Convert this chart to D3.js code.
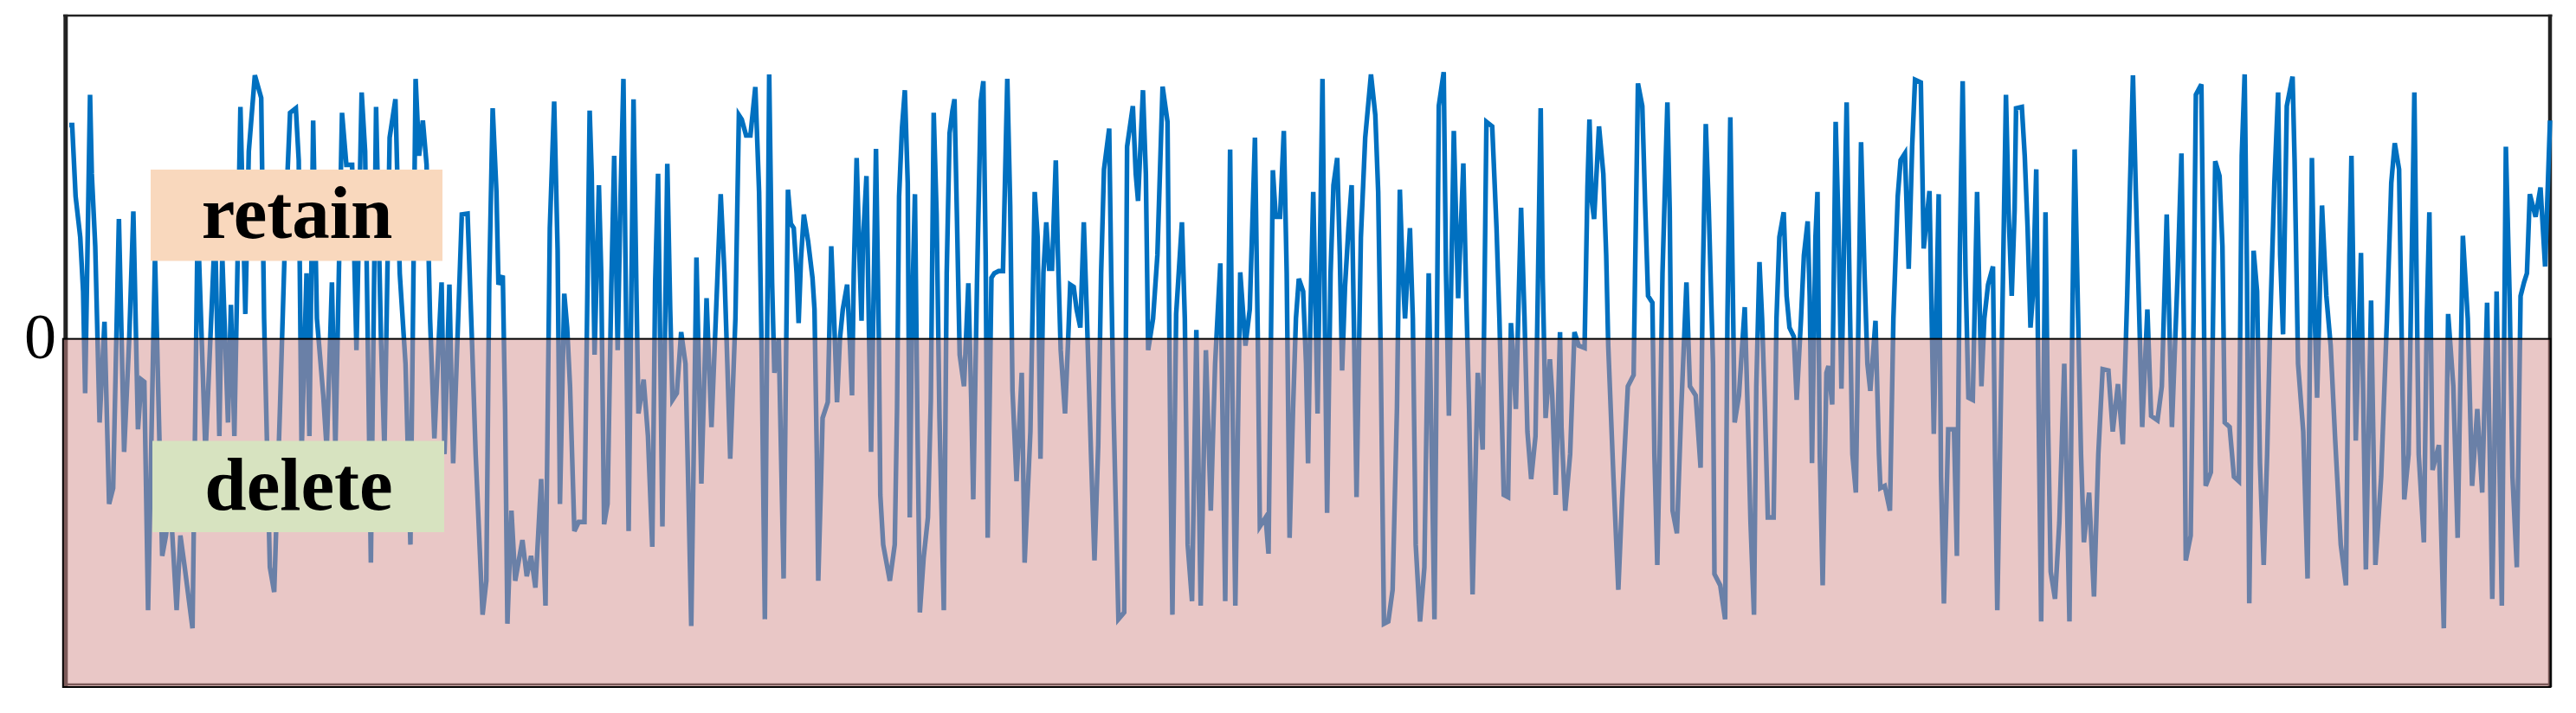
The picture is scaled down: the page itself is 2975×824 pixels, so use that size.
<!DOCTYPE html>
<html><head><meta charset="utf-8">
<script src="https://cdn.jsdelivr.net/npm/d3@7"></script>
<style>html,body{margin:0;padding:0;background:#fff;}svg{display:block;}</style>
</head><body>
<svg id="chart" width="2975" height="824"></svg>
<script>
// [time step, score] samples (turning points of the trace)
const samples = [
[6,47.3],[16,47.3],[28,31.5],[44,22.5],[54,10.5],[61,-12],[78,54],[84,36.5],[96,20.5],[111,-18.5],[128,3.8],[144,-36.5],[158,-33],[178,26.5],[196,-25],[214,0.5],[228,28.2],[244,-20],[256,-9],[266,-9.5],[279,-60],[303,18.5],[328,-48],[341,-43.5],[356,-35.5],[378,-60],[391,-43.5],[406,-50.5],[433,-64],[451,26.5],[478,-25.5],[511,24.5],[526,-21.5],[536,18.5],[556,-18.5],[566,7.5],[578,-21.5],[599,51.3],[616,5.5],[628,41.5],[649,58.3],[671,53.3],[681,4.5],[701,-50.5],[716,-56],[736,-15.5],[756,27.5],[771,50],
[791,51],[801,39.5],[811,-25.5],[828,14.5],[838,-21.5],[851,48.3],[864,4.5],[886,-12.5],[898,-24.5],[916,12.5],[928,-24.5],[951,50],[966,38.5],[986,38.5],[1001,-2.5],[1019,54.5],[1031,41.5],[1051,-49.5],[1069,51.3],[1086,0],[1098,-24.5],[1116,44.5],[1136,53],[1151,14.5],[1171,-5.5],[1188,-45.5],[1206,57.5],[1218,40.5],[1231,48.3],[1244,38.5],[1256,4.5],[1271,-22],[1286,-0.5],[1296,12.5],[1306,-25.5],[1323,12],[1336,-27.5],[1351,0],[1366,27.5],[1386,27.7],[1401,0],[1414,-25.5],[1438,-61],[1451,-53.5],[1461,12.5],[1473,51],[1486,32.5],[1493,12],[1508,14],[1516,-15.5],[1524,-63],[1538,-38],[1551,-53.5],[1576,-44.5],[1591,-52.5],[1606,-48],[1621,-55],
[1641,-31],[1656,-59],[1671,24.5],[1686,52.5],[1698,19.5],[1706,-36.5],[1721,10],[1731,2.5],[1741,-10.5],[1756,-42.5],[1771,-40.5],[1791,-40.5],[1809,50.5],[1816,36.5],[1826,-3.5],[1841,34],[1849,14.5],[1859,-41],[1871,-36.5],[1884,11.5],[1894,40.5],[1906,-2.5],[1916,31.5],[1926,57.5],[1936,0.5],[1944,-42.5],[1961,53],[1971,10.5],[1978,-16.5],[1996,-9],[2011,-21.5],[2026,-46],[2036,12.5],[2046,36.5],[2061,-41.5],[2078,38.7],[2088,6.5],[2096,-13.5],[2111,-12],[2126,1.5],[2141,-5.5],[2151,-33.5],[2161,-63.5],[2171,-18.5],[2179,18],[2196,-32],[2214,9],[2231,-19.5],[2246,4.5],[2263,32],[2276,14.5],[2286,-5.5],[2296,-26.5],[2314,4.5],[2326,49.5],[2336,48.5],[2351,45],[2366,45],[2383,55.7],[2396,32.5],[2404,1],[2416,-62],[2431,58.5],[2441,12.5],[2449,-7.5],[2464,0],
[2481,-53],[2496,33],[2506,25.5],[2516,24.5],[2526,14.5],[2533,3.5],[2541,17.5],[2551,27.5],[2566,21.5],[2581,13.5],[2588,6.5],[2596,-25.5],[2601,-53.5],[2611,-30.5],[2616,-17.5],[2634,-14],[2646,20.5],[2656,4.5],[2666,-14],[2676,0],[2686,6.5],[2701,12],[2711,-1.5],[2718,-12.5],[2724,14.5],[2734,40],[2744,17.5],[2751,4],[2756,21.5],[2768,36],[2776,4.5],[2784,-25],[2801,42],[2811,-0.5],[2816,-34.5],[2826,-45.5],[2849,-53.5],[2866,-45.5],[2874,-15.5],[2881,31.5],[2891,46.5],[2901,55],[2911,34.5],[2918,-39.5],[2926,5.5],[2936,32],[2944,-15.5],[2953,-60.5],[2966,-48.5],[2981,-39.5],[2991,-13.5],[3001,50],[3011,27.5],[3021,-17.5],[3036,-60],[3046,14.5],[3056,45.5],[3066,50.5],[3073,53],[3081,28.5],[3091,-3.5],[3106,-10.5],[3121,12.3],[3131,-13.5],[3138,-35.5],[3151,12.5],[3164,52.5],[3173,57],[3181,18.5],[3188,-44],[3201,13.5],[3211,14.5],[3226,15],[3241,15],[3256,57.5],[3266,29.5],[3274,-11.5],[3288,-31.5],[3306,-7.5],
[3316,-49.5],[3336,-20.5],[3351,32.5],[3361,22.5],[3371,-26.5],[3381,14.5],[3391,25.8],[3401,15.5],[3411,15.5],[3424,39.5],[3431,19.5],[3441,-2.5],[3456,-16.5],[3466,-1.5],[3474,12],[3486,11.5],[3496,6.5],[3509,2.5],[3521,25.8],[3531,6.5],[3546,-25.5],[3558,-49],[3571,-23.5],[3581,14.5],[3591,37.5],[3609,46.5],[3616,14.5],[3624,-15.5],[3641,-62],[3661,-60.5],[3671,42.5],[3691,51.5],[3701,36.5],[3709,30.5],[3726,55],[3736,36.5],[3744,-2.5],[3761,4.5],[3776,18.5],[3794,55.8],[3811,48],[3821,-25.5],[3828,-61],[3841,5.5],[3861,25.8],[3871,4.5],[3881,-45.5],[3896,-58],[3911,2],[3926,-59],[3944,-2.5],[3961,-38],[3976,-5.5],[3994,16.7],[4011,-58],[4028,41.9],[4036,-12.5],[4046,-59],[4063,14.7],[4081,-1.5],[4096,6.5],[4114,44.5],[4124,-0.5],[4131,-41.5],
[4151,-39.5],[4161,-47.5],[4176,37.3],[4186,27],[4201,27],[4214,46],[4224,14.5],[4234,-44],[4246,-15.5],[4256,4.5],[4266,13.3],[4281,10.5],[4291,-5.5],[4298,-27.5],[4306,4.5],[4316,32.5],[4331,-16.5],[4338,14.5],[4348,57.5],[4356,4.5],[4364,-38.5],[4376,14.5],[4386,34],[4399,40],[4408,18.5],[4416,-7],[4426,11.5],[4438,24.5],[4449,34],[4458,-1.5],[4466,-35],[4481,22.5],[4496,44.5],[4516,58.5],[4531,49.5],[4541,32.5],[4549,-0.5],[4561,-63],[4576,-62.5],[4591,-55.5],[4606,-15.5],[4616,33],[4626,14.5],[4634,4.5],[4651,24.5],[4661,4.5],[4671,-45.5],[4686,-62.5],[4701,-50.5],[4716,14.5],[4736,-62],[4751,51.5],[4768,59],[4776,14.5],[4786,-17],[4803,46],[4818,9],[4836,38.8],[4846,9.5],[4856,-15.5],[4868,-56.5],[4886,-7.5],[4903,-24.5],[4916,48],[4936,47],[4951,24.5],[4961,4.5],[4976,-34.5],
[4991,-35],[5001,3.5],[5006,-1.5],[5018,-15.5],[5026,4.5],[5036,29],[5048,4.5],[5058,-20.5],[5071,-31],[5086,-21.5],[5096,18.5],[5104,51],[5111,13.5],[5121,-17.5],[5136,-4.5],[5144,-12.5],[5156,-34.5],[5171,1.5],[5176,-19.5],[5189,-38],[5206,-25.5],[5221,1.5],[5236,-1.5],[5256,-2],[5266,33.5],[5273,48.5],[5281,30.5],[5289,26.5],[5306,47],[5321,36.5],[5331,18.5],[5338,-1.5],[5356,-30.5],[5373,-55.5],[5386,-35.5],[5406,-10.5],[5426,-8],[5431,14.5],[5441,56.5],[5456,51.5],[5466,29.5],[5476,9.5],[5491,8],[5498,-25.5],[5508,-50],[5516,-25.5],[5526,14.5],[5543,52.3],[5551,28.5],[5561,-38],[5576,-43],[5591,-15.5],[5601,0],[5609,12.5],[5621,-10.5],[5641,-12.5],[5658,-28.5],[5666,14.5],[5676,47.5],[5686,29.5],[5701,-5.5],[5706,-52],[5726,-54.5],[5743,-62],[5751,4.5],[5761,49],[5771,4.5],[5776,-18.5],[5791,-12.5],[5798,-5.5],[5811,7],[5821,-15.5],
[5831,-40.5],[5843,-61],[5851,-10.5],[5862,17],[5871,4.5],[5881,-15.5],[5891,-39.5],[5911,-39.5],[5921,4.5],[5931,22.5],[5946,28],[5956,9.5],[5966,2.5],[5981,0.5],[5991,-13.5],[6006,4.5],[6016,18.5],[6029,26],[6036,9.5],[6044,-27.5],[6056,22.5],[6063,32.5],[6071,-25.5],[6081,-54.5],[6094,-7.5],[6101,-6],[6114,-14.5],[6126,48],[6136,24.5],[6146,-11],[6164,52.3],[6176,4.5],[6184,-25.5],[6196,-34],[6214,43.5],[6226,14.5],[6236,-5.5],[6246,-11.5],[6264,4],[6276,-25.5],[6281,-33],[6296,-32.5],[6314,-38],[6326,4.5],[6341,31.5],[6351,39.5],[6366,41],[6379,15.5],[6391,42.5],[6401,57.3],[6421,56.7],[6431,20],[6451,32.7],[6456,14.5],[6466,-21],[6483,32],[6491,-30.5],[6501,-58.5],[6516,-20],[6536,-20],[6546,-48],[6556,18.5],[6566,57],[6576,14.5],[6586,-13],[6601,-13.5],[6616,32.5],[6631,-10.5],[6641,4.5],[6654,12],
[6671,16],[6678,-25.5],[6686,-60],[6706,15],[6716,54],[6726,26.5],[6736,9.5],[6746,28.5],[6751,51],[6771,51.3],[6781,40.5],[6791,24.5],[6801,2.5],[6809,9.5],[6821,37.5],[6829,-15.5],[6838,-62.5],[6853,28],[6861,-15.5],[6871,-51.5],[6886,-57.5],[6901,-40.5],[6918,-5.5],[6936,-62.5],[6946,4.5],[6954,41.9],[6966,4.5],[6976,-25.5],[6986,-45],[7004,-34],[7021,-57],[7036,-25.5],[7051,-6.7],[7071,-7],[7086,-20.5],[7104,-10],[7121,-23.3],[7136,9.5],[7146,34.5],[7156,58.3],[7166,32.5],[7176,9.5],[7188,-19.5],[7206,6.5],[7219,-17],[7241,-18],[7256,-10.5],[7273,27.5],[7291,-19.5],[7311,14.5],[7324,41],[7333,-0.5],[7339,-49],[7356,-43.5],[7366,4.5],[7374,54],[7393,56.3],[7401,10.5],[7408,-32.5],[7426,-29.5],[7441,39.3],[7456,36],[7466,20.5],[7474,-18.5],[7491,-19.5],[7506,-30.5],
[7523,-31.5],[7533,40.5],[7543,58.5],[7551,14.5],[7559,-58.5],[7574,19.5],[7586,10.5],[7596,-27.5],[7609,-50],[7621,-25.5],[7631,2.5],[7646,34.5],[7659,54.5],[7666,18.5],[7676,1],[7689,51.5],[7709,58],[7716,39.5],[7728,-5.5],[7746,-20.5],[7761,-53],[7776,40],[7786,4.5],[7794,-13],[7811,29.5],[7826,9.5],[7841,-1.5],[7856,-21.5],[7876,-45.5],[7894,-54.5],[7906,18.5],[7913,40.5],[7928,-22.5],[7946,19],[7963,-51],[7981,8.5],[7996,-50],[8016,-30.5],[8036,4.5],[8051,34.5],[8063,43.3],[8078,37.5],[8086,4.5],[8096,-35.5],[8111,-25.5],[8121,14.5],[8131,54.5],[8146,-25.5],[8164,-45],[8174,4.5],[8183,28],[8194,-29],[8216,-23.5],[8233,-64],[8248,5.5],[8266,-10.5],[8281,-44],[8299,22.8],[8316,4.5],[8331,-32.5],[8349,-15.5],[8366,-34],[8383,8],[8401,-57.5],[8416,10.5],[8434,-59],[8448,42.5],[8461,9.5],[8471,-30.5],[8486,-50.5],[8499,9.5],[8511,12.5],[8521,14.5],[8531,32],[8551,27],[8568,33.5],[8584,16],[8601,48.3]
];
const steps = samples.map(d => d[0]);
const scores = samples.map(d => d[1]);
const regionLabels = ["retain", "delete"];
const regionColors = ["#F9D8BD", "#D7E3C0"];
const yTickValues = [0];
const xExtent = [0, 8601];
const yExtent = [-77, 71.5];

const svg = d3.select("#chart");
const L = 78, R = 2945, T = 18, B = 794;
const x = d3.scaleLinear().domain(xExtent).range([L, R]);
const y = d3.scaleLinear().domain(yExtent).range([B, T]);

// frame (under the overlay)
const frame = svg.append("g");
frame.append("line").attr("x1", 73).attr("x2", 2947.5).attr("y1", T).attr("y2", T)
  .attr("stroke", "#222").attr("stroke-width", 2.5);
frame.append("line").attr("x1", 75.8).attr("x2", 75.8).attr("y1", T - 1.2).attr("y2", B)
  .attr("stroke", "#222").attr("stroke-width", 5);
frame.append("line").attr("x1", 2945).attr("x2", 2945).attr("y1", T - 1.2).attr("y2", B)
  .attr("stroke", "#222").attr("stroke-width", 4.5);
frame.append("line").attr("x1", 73).attr("x2", 2947).attr("y1", B - 3).attr("y2", B - 3)
  .attr("stroke", "#222").attr("stroke-width", 2.5);

// trace
const line = d3.line().x((d, i) => x(steps[i])).y((d, i) => y(scores[i]));
svg.append("path").datum(scores).attr("d", line)
  .attr("fill", "none").attr("stroke", "#0070C0").attr("stroke-width", 5.4)
  .attr("stroke-linejoin", "miter");

// negative ("delete") region overlay
svg.append("rect")
  .attr("x", 72.8).attr("y", y(0))
  .attr("width", 2945.5 - 72.8).attr("height", B - y(0))
  .attr("fill", "#D38F8D").attr("fill-opacity", 0.5)
  .attr("stroke", "#000").attr("stroke-width", 2);

// region labels
const boxes = [
  {x0: 174, x1: 511, y0: 196, y1: 301.5, base: 274.5},
  {x0: 176, x1: 513, y0: 509.5, y1: 615, base: 589}
];
regionLabels.forEach((lab, i) => {
  const b = boxes[i];
  svg.append("rect").attr("x", b.x0).attr("y", b.y0).attr("width", b.x1 - b.x0).attr("height", b.y1 - b.y0)
    .attr("fill", regionColors[i]);
  svg.append("text").attr("x", (b.x0 + b.x1) / 2 + 0.5).attr("y", b.base)
    .attr("text-anchor", "middle")
    .attr("font-family", "'Liberation Serif','Times New Roman',serif")
    .attr("font-weight", "bold").attr("font-size", 87).attr("fill", "#000")
    .text(lab);
});

// y tick label
svg.selectAll("text.ytick").data(yTickValues).enter().append("text")
  .attr("class", "ytick")
  .attr("x", 65).attr("y", d => y(d) + 22.5)
  .attr("text-anchor", "end")
  .attr("font-family", "'Liberation Serif','Times New Roman',serif")
  .attr("font-size", 74).attr("fill", "#000")
  .text(d => d);
</script>
</body></html>
